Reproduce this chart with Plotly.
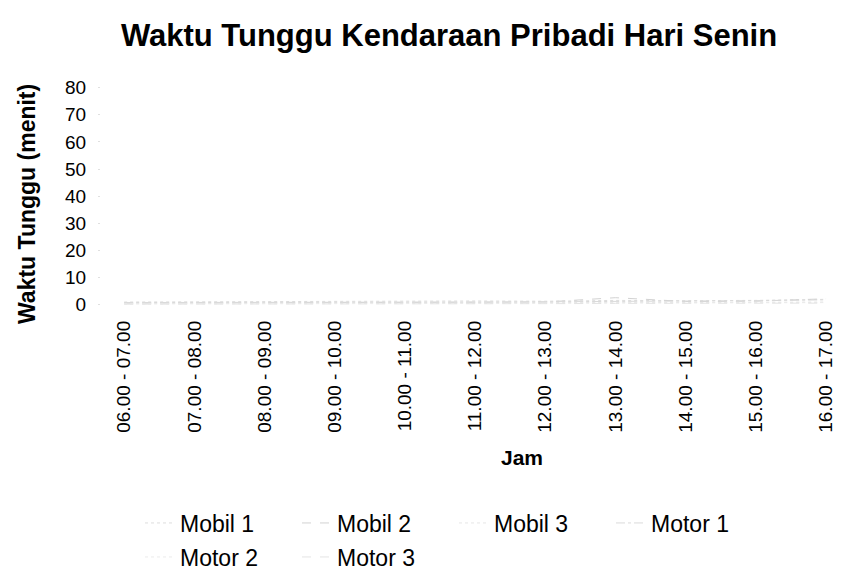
import plotly.graph_objects as go

jam = ["06.00 - 07.00", "07.00 - 08.00", "08.00 - 09.00", "09.00 - 10.00",
       "10.00 - 11.00", "11.00 - 12.00", "12.00 - 13.00", "13.00 - 14.00",
       "14.00 - 15.00", "15.00 - 16.00", "16.00 - 17.00"]

mobil_1 = [1.0, 1.1, 1.0, 1.2, 1.3, 1.4, 1.3, 1.6, 1.5, 1.6, 2.0]
mobil_2 = [0.6, 0.7, 0.7, 0.8, 0.9, 1.0, 1.0, 2.6, 1.2, 1.3, 2.2]
mobil_3 = [0.4, 0.5, 0.5, 0.6, 0.6, 0.7, 0.8, 0.9, 0.8, 0.9, 1.0]
motor_1 = [0.8, 0.8, 0.9, 1.0, 0.9, 1.0, 1.1, 1.2, 1.2, 1.5, 1.8]
motor_2 = [0.3, 0.3, 0.4, 0.4, 0.4, 0.5, 0.5, 0.6, 0.6, 0.7, 0.8]
motor_3 = [0.2, 0.2, 0.3, 0.3, 0.3, 0.4, 0.4, 0.5, 0.5, 0.5, 0.6]

# (name, values, colour, dash, legend row)
series = [
    ("Mobil 1", mobil_1, "#dedede", "dot", "legend"),
    ("Mobil 2", mobil_2, "#d2d2d2", "dash", "legend"),
    ("Mobil 3", mobil_3, "#e6e6e6", "dot", "legend"),
    ("Motor 1", motor_1, "#dadada", "dashdot", "legend"),
    ("Motor 2", motor_2, "#ebebeb", "dot", "legend2"),
    ("Motor 3", motor_3, "#e4e4e4", "dash", "legend2"),
]

fig = go.Figure()
for name, vals, col, dash, leg in series:
    fig.add_trace(go.Scatter(
        x=jam, y=vals, name=name, mode="lines", legend=leg,
        line=dict(color=col, width=1, dash=dash),
    ))

font = "Liberation Sans, Arial, sans-serif"
L, T, B = 93, 58, 275
PW, PH = 844 - L, 575 - T - B


def px(x):
    return (x - L) / PW


def py(y):
    return (575 - B - y) / PH


leg_style = dict(orientation="h", xanchor="left", yanchor="middle",
                 entrywidth=112, font=dict(size=23), bgcolor="rgba(0,0,0,0)")

fig.update_layout(
    width=844, height=575,
    paper_bgcolor="white", plot_bgcolor="white",
    margin=dict(l=L, r=0, t=T, b=B),
    font=dict(family=font, color="black"),
    title=dict(text="<b>Waktu Tunggu Kendaraan Pribadi Hari Senin</b>",
               x=441 / 844, xanchor="center", y=1 - 27 / 575, yanchor="middle",
               font=dict(size=31)),
    xaxis=dict(range=[-0.33, 10.37], showgrid=False, zeroline=False, showline=False,
               tickangle=-90, tickfont=dict(size=19), ticks="", ticklabelstandoff=8),
    yaxis=dict(range=[-1.2, 88], tickvals=[0, 10, 20, 30, 40, 50, 60, 70, 80],
               showgrid=False, zeroline=False, showline=False,
               ticks="outside", ticklen=2, tickcolor="#e0e0e0",
               ticklabelstandoff=8, tickfont=dict(size=19)),
    showlegend=True,
    legend=dict(x=px(132), y=py(515), **leg_style),
    legend2=dict(x=px(132), y=py(549), **leg_style),
    annotations=[
        dict(text="<b>Jam</b>", xref="paper", yref="paper",
             x=px(514), y=py(449), xanchor="center", yanchor="middle",
             showarrow=False, font=dict(size=21)),
        dict(text="<b>Waktu Tunggu (menit)</b>", xref="paper", yref="paper",
             x=px(19), y=py(196), xanchor="center", yanchor="middle",
             textangle=-90, showarrow=False, font=dict(size=23)),
    ],
)

fig.write_html("out.html")
